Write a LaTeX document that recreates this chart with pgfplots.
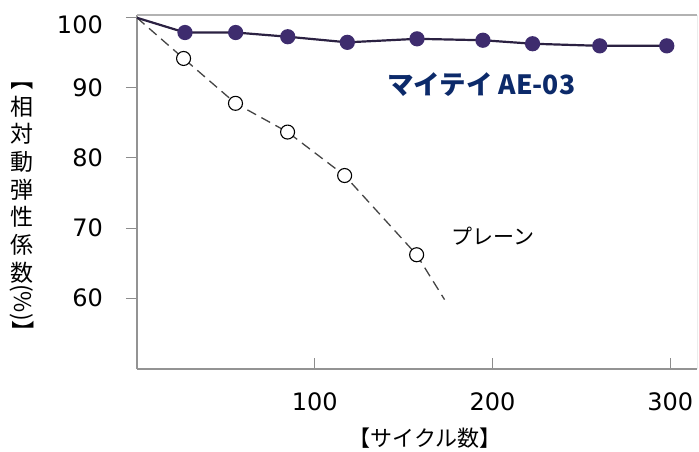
\documentclass[border=0pt]{standalone}
\usepackage{pgfplots}
\pgfplotsset{compat=1.18}
\usepackage{graphicx}
\usepackage{fontspec}
\setmainfont{DejaVu Sans}
\newfontfamily\cjk{Noto Sans CJK JP}
\definecolor{aeline}{HTML}{2B2142}
\definecolor{aedot}{HTML}{3E2C6E}
\definecolor{aetext}{HTML}{0C2A6A}
\definecolor{plainline}{HTML}{444444}
\begin{document}
\begin{tikzpicture}
\begin{axis}[
  at={(0,0)}, anchor=south west,
  scale only axis, width=560pt, height=354pt,
  xmin=0, xmax=315, ymin=49.9, ymax=100.4,
  xtick={100,200,300}, ytick={60,70,80,90},
  extra y ticks={100},
  extra y tick style={yticklabel style={yshift=-7pt}},
  tick pos=left,
  tick align=inside,
  major tick length=11pt,
  y tick style={xshift=-11pt},
  tick style={draw=gray!90, line width=1pt},
  axis line style={draw=none},
  /pgf/number format/assume math mode=true,
  ticklabel style={font=\fontsize{24}{28}\selectfont, inner sep=0pt},
  yticklabel style={anchor=east, xshift=-34pt},
  xticklabel style={anchor=north, yshift=-23pt},
  clip=false,
]
\draw[gray!85, line width=1.2pt] (rel axis cs:0,0) -- (rel axis cs:0,1);
\draw[gray!85, line width=1.2pt] (rel axis cs:0,0) -- (rel axis cs:1,0);
\draw[gray!60, line width=1.2pt] (rel axis cs:0,1) -- (rel axis cs:1,1);
\draw[gray!15, line width=1pt] (rel axis cs:1,0) -- (rel axis cs:1,1);
\addplot[plainline, line width=1.3pt, dash pattern=on 10pt off 6pt,
  mark=*, mark indices={2,3,4,5,6},
  mark options={solid, draw=black, fill=white, line width=1.1pt}, mark size=7pt]
  coordinates {(0,100) (26.2,94.2) (55.4,87.8) (84.7,83.7) (116.8,77.5) (157.3,66.2) (173,59.8)};
\addplot[aeline, line width=2.2pt, mark=*, mark indices={2,3,4,5,6,7,8,9,10},
  mark options={draw=aedot, fill=aedot}, mark size=6.5pt]
  coordinates {(0,100) (27,97.9) (55.5,97.9) (84.8,97.3) (118.3,96.5) (157.5,97.0) (194.6,96.8) (222.5,96.3) (260.3,96.0) (298,96.0)};
\node[text=aetext, font=\cjk\bfseries\fontsize{26.5}{30}\selectfont] at (axis cs:193.6,90.5) {マイテイ AE-03};
\node[font=\cjk\fontsize{21}{24}\selectfont] at (axis cs:200,68.8) {プレーン};
\end{axis}
\node[font=\cjk\fontsize{23}{27.7}\selectfont, align=center, inner sep=0pt] at (-115pt,163.5pt)
  {\rotatebox[origin=c]{-90}{【}\\相\\対\\動\\弾\\性\\係\\数\\\rotatebox[origin=c]{-90}{(\%)】}};
\node[font=\cjk\fontsize{22}{26}\selectfont] at (288pt,-69pt) {【サイクル数】};
\pgfresetboundingbox
\useasboundingbox (-137pt,-83pt) rectangle (562pt,369pt);
\end{tikzpicture}
\end{document}
